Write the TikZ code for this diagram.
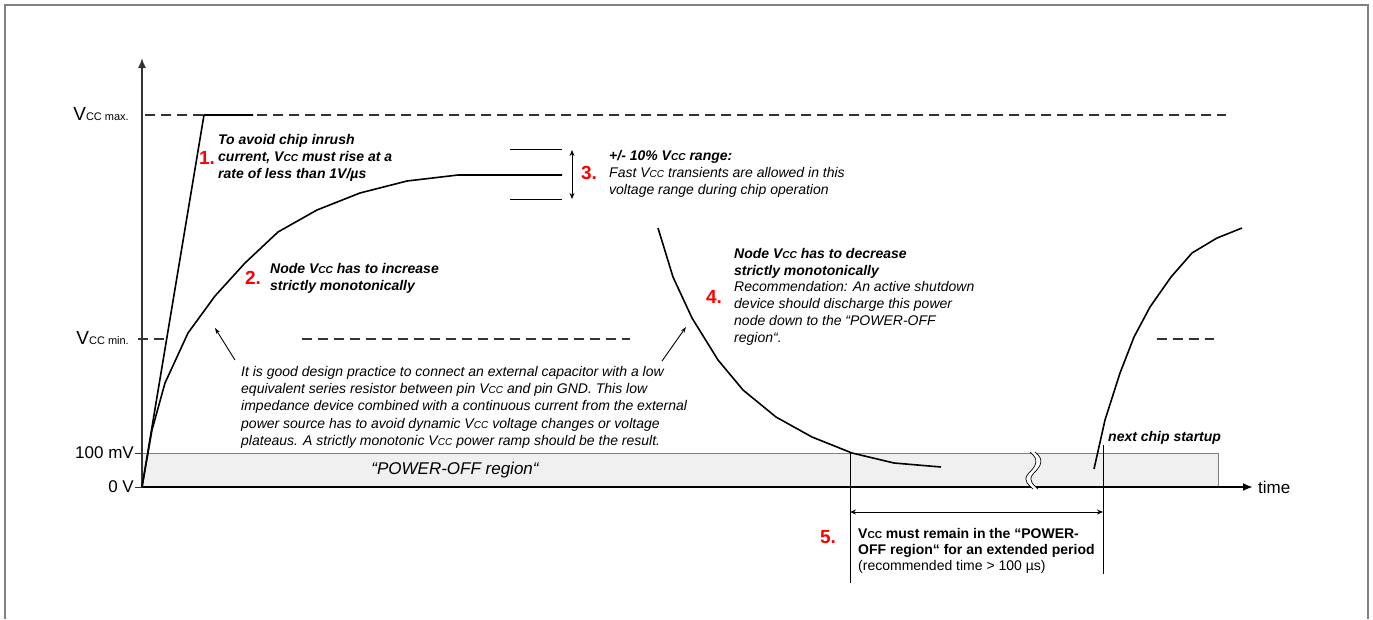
\documentclass[tikz,border=0pt]{standalone}
\usepackage{fontspec}
\setmainfont{Liberation Sans}
\usetikzlibrary{arrows.meta}
\newcommand\VCC{V\scalebox{0.72}{CC}}
\definecolor{frame}{HTML}{808080}
\definecolor{band}{HTML}{F0F0F0}
\definecolor{axisc}{HTML}{333333}
\tikzset{
  note/.style={inner sep=0pt, anchor=north west, align=left, font=\fontsize{14}{17.3}\selectfont\itshape},
  bnote/.style={note, font=\fontsize{14}{17.3}\selectfont\bfseries\itshape},
  num/.style={inner sep=0pt, text=red, font=\fontsize{19}{19}\selectfont\bfseries},
  axlabel/.style={inner sep=0pt, anchor=east, font=\fontsize{17}{17}\selectfont},
  curve/.style={black, line width=1.6pt, line join=round},
  dashline/.style={axisc, line width=1.2pt, dash pattern=on 10pt off 6pt},
  thin/.style={black, line width=0.9pt},
  dimarrow/.style={thin, {Stealth[length=6pt,width=5pt]}-{Stealth[length=6pt,width=5pt]}},
  notearrow/.style={thin, -{Stealth[length=6pt,width=4pt]}},
}
\begin{document}
\begin{tikzpicture}[x=1pt,y=-1pt]
\useasboundingbox (0,0) rectangle (1373,619);
% frame
\draw[frame, line width=1.5pt] (5,619) -- (5,5) -- (1368,5) -- (1368,619);
% power-off band
\node[draw=frame, fill=band, line width=1pt, minimum width=1076pt, minimum height=34pt, anchor=north west, inner sep=0pt] (band) at (142,453) {};
\node[font=\fontsize{17}{17}\selectfont\itshape] (pol) at (455,470) {“POWER-OFF region“};
% axes
\coordinate (O) at (142,487);
\coordinate (ytop) at (142,58);
\coordinate (xend) at (1253,487);
\draw[axisc, line width=1.5pt, -{Latex[length=10pt,width=8pt]}] (O) -- (ytop);
\draw[black, line width=2pt, -{Latex[length=10pt,width=8pt]}] (O) -- (xend);
\node[inner sep=0pt, anchor=west, font=\fontsize{17}{17}\selectfont] (time) at (1258,487) {time};
% axis labels and ticks
\node[axlabel, font=\fontsize{19}{19}\selectfont] (vmax) at (129,114) {V{\fontsize{11}{11}\selectfont CC max.}};
\node[axlabel, font=\fontsize{19}{19}\selectfont] (vmin) at (129,338) {V{\fontsize{11}{11}\selectfont CC min.}};
\node[axlabel] (mv) at (134,453) {100 mV};
\node[axlabel] (zv) at (134,487) {0 V};
\draw[axisc, line width=1pt] (135,453) -- (142,453);
\draw[axisc, line width=1pt] (135,487) -- (142,487);
% dashed levels
\draw[dashline] (145,115) -- (1226,115);
\draw[dashline] (138,339) -- (168,339);
\draw[dashline] (302,339) -- (630,339);
\draw[dashline] (1157,339) -- (1214,339);
% curve 1 (too fast)
\draw[curve] (O) -- (204,115) -- (253,115);
% curve 2 (monotonic rise)
\draw[curve] (O) -- (152,430) -- (165,383) -- (188,333) -- (215,296) -- (245,263) -- (278,232) -- (317,210) -- (360,193) -- (407,181) -- (458,175) -- (562,175);
% +/- 10% range
\draw[thin] (510,149) -- (562,149);
\draw[thin] (510,199) -- (562,199);
\draw[dimarrow] (572,150) -- (572,199);
% curve 4 (decrease)
\draw[curve] (658,228) -- (673,277) -- (692,318) -- (718,360) -- (743,390) -- (776,417) -- (812,437) -- (852,453) -- (894,463) -- (941,467);
% next startup
\draw[curve] (1094,469) -- (1105,420) -- (1120,373) -- (1134,337) -- (1150,307) -- (1171,277) -- (1192,253) -- (1217,238) -- (1242,228);
% time break
\fill[white] (1030,452) .. controls (1040,460) and (1036,466) .. (1028,474) .. controls (1022,481) and (1030,486) .. (1033,489)
  -- (1038,489) .. controls (1035,486) and (1027,481) .. (1033,474) .. controls (1041,466) and (1045,460) .. (1035,452) -- cycle;
\draw[thin, line width=0.7pt] (1030,452) .. controls (1040,460) and (1036,466) .. (1028,474) .. controls (1022,481) and (1030,486) .. (1033,489);
\draw[thin, line width=0.7pt] (1035,452) .. controls (1045,460) and (1041,466) .. (1033,474) .. controls (1027,481) and (1035,486) .. (1038,489);
% period markers
\coordinate (p1) at (850,512);
\coordinate (p2) at (1103,512);
\draw[thin] (850,453) -- (850,583);
\draw[thin] (1103,445) -- (1103,574);
\draw[dimarrow] (p1) -- (p2);
% annotation 1
\node[num] (n1) at (207,158) {1.};
\node[bnote] (t1) at (218,134) {To avoid chip inrush\\current, \VCC{} must rise at a\\rate of less than 1V/µs};
% annotation 2
\node[num] (n2) at (253,278) {2.};
\node[bnote] (t2) at (270,263) {Node \VCC{} has to increase\\strictly monotonically};
% annotation 3
\node[num] (n3) at (589,173) {3.};
\node[note] (t3) at (609,150) {\textbf{+/- 10\% \VCC{} range:}\\Fast \VCC{} transients are allowed in this\\voltage range during chip operation};
% annotation 4
\node[num] (n4) at (714,297) {4.};
\node[note, font=\fontsize{14}{16.8}\selectfont\itshape] (t4) at (734,248) {\textbf{Node \VCC{} has to decrease}\\\textbf{strictly monotonically}\\Recommendation: An active shutdown\\device should discharge this power\\node down to the “POWER-OFF\\region“.};
% design practice note
\node[note] (t6) at (241,366) {It is good design practice to connect an external capacitor with a low\\equivalent series resistor between pin \VCC{} and pin GND. This low\\impedance device combined with a continuous current from the external\\power source has to avoid dynamic \VCC{} voltage changes or voltage\\plateaus. A strictly monotonic \VCC{} power ramp should be the result.};
\coordinate (a1s) at (235,360);
\coordinate (a1e) at (215,328);
\coordinate (a2s) at (662,361);
\coordinate (a2e) at (686,327);
\draw[notearrow] (a1s) -- (a1e);
\draw[notearrow] (a2s) -- (a2e);
% next chip startup
\node[bnote] (ns) at (1108,431) {next chip startup};
% annotation 5
\node[num] (n5) at (828,537) {5.};
\node[note, font=\fontsize{14}{16}\selectfont\bfseries] (t5) at (858,528) {\VCC{} must remain in the “POWER-\\OFF region“ for an extended period\\{\mdseries (recommended time > 100 µs)}};
\end{tikzpicture}
\end{document}
